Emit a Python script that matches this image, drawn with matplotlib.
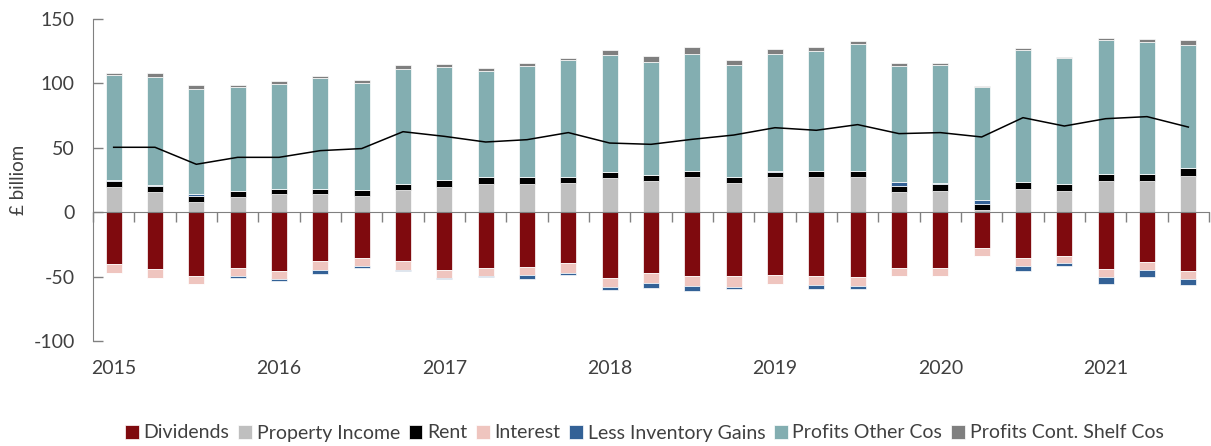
import matplotlib
matplotlib.use("Agg")
import matplotlib.pyplot as plt
import matplotlib.transforms as mtransforms
import numpy as np

plt.rcParams['font.family'] = ['Lato', 'DejaVu Sans']
plt.rcParams['axes.unicode_minus'] = False

quarters = [f"{y} Q{q}" for y in range(2015, 2022) for q in range(1, 5)][:27]
year_labels = ["2015", "2016", "2017", "2018", "2019", "2020", "2021"]

dividends = [-40.6, -44.4, -49.6, -43.7, -46.0, -38.2, -35.7, -38.2, -45.2, -43.7, -42.6, -39.8, -50.9, -47.5,
             -49.9, -49.6, -48.6, -49.6, -50.6, -43.7, -43.7, -27.6, -35.7, -33.9, -44.4, -39.0, -46.0]
property_income = [19.9, 16.0, 8.0, 12.1, 14.0, 14.0, 12.9, 17.3, 19.9, 22.0, 22.0, 23.0, 26.4, 24.5,
                   27.1, 23.0, 27.1, 27.1, 27.1, 15.8, 16.8, 1.8, 18.3, 16.8, 24.5, 24.5, 28.2]
rent = [4.4, 4.4, 4.7, 4.4, 4.1, 4.1, 4.4, 4.7, 5.2, 5.2, 5.2, 4.1, 4.9, 4.4,
        5.2, 4.1, 4.4, 5.2, 5.2, 4.9, 5.2, 4.7, 5.2, 5.2, 5.2, 5.2, 5.9]
interest = [-6.5, -7.0, -6.5, -6.2, -6.2, -7.0, -5.7, -6.5, -5.7, -5.9, -6.2, -7.2, -7.5, -7.2,
            -7.5, -8.8, -7.5, -7.2, -7.0, -6.2, -6.2, -6.5, -5.9, -5.2, -6.2, -6.2, -6.2]
inventory = [0.8, 0.6, 1.3, -0.8, -1.0, -2.6, -1.8, -1.0, -0.8, -1.0, -2.8, -2.1, -2.1, -3.9,
             -3.9, -1.0, 0.8, -2.6, -1.8, 2.8, 0.8, 3.1, -3.9, -2.8, -5.2, -5.4, -4.7]
profits_other = [81.7, 83.7, 81.7, 80.4, 81.1, 85.8, 82.9, 88.9, 87.3, 82.4, 86.0, 90.7, 90.9, 87.9,
                 90.9, 87.1, 90.7, 92.8, 98.4, 89.7, 91.5, 87.3, 102.8, 97.4, 103.9, 102.1, 95.9]
profits_shelf = [1.6, 3.1, 2.8, 1.6, 2.8, 1.6, 2.3, 3.1, 2.6, 2.6, 2.6, 2.3, 3.4, 4.4,
                 5.2, 4.1, 3.4, 3.1, 2.6, 2.8, 1.8, 0.8, 1.0, 1.0, 1.6, 2.6, 3.4]
net_line = [50.4, 50.4, 37.2, 42.6, 42.6, 47.8, 49.4, 62.5, 58.9, 54.5, 56.3, 61.8, 53.7, 52.7,
            56.6, 59.9, 65.6, 63.6, 68.0, 61.0, 61.8, 58.4, 73.4, 66.9, 72.6, 74.2, 66.1]

series = [
    ("Dividends", dividends, "#7f0a0e"),
    ("Property Income", property_income, "#bfbfbf"),
    ("Rent", rent, "#000000"),
    ("Interest", interest, "#efc5bf"),
    ("Less Inventory Gains", inventory, "#336196"),
    ("Profits Other Cos", profits_other, "#83aeb1"),
    ("Profits Cont. Shelf Cos", profits_shelf, "#7f7f7f"),
]
pos_order = ["Property Income", "Rent", "Less Inventory Gains", "Profits Other Cos", "Profits Cont. Shelf Cos"]
neg_order = ["Dividends", "Interest", "Less Inventory Gains"]

fig = plt.figure(figsize=(12.11, 4.46), dpi=100)
ax = fig.add_axes([93 / 1211, 105 / 446, 1116 / 1211, 322 / 446])

x = np.arange(len(quarters))
width = 0.39
pos_bottom = np.zeros(len(x))
neg_bottom = np.zeros(len(x))
handles = {}
sdict = {n: (np.array(v, float), c) for n, v, c in series}

order = ["Dividends", "Interest", "Property Income", "Rent", "Less Inventory Gains",
         "Profits Other Cos", "Profits Cont. Shelf Cos"]
for name in order:
    vals, col = sdict[name]
    pos = np.where(vals > 0, vals, 0)
    neg = np.where(vals < 0, vals, 0)
    h = None
    if name in pos_order and pos.any():
        h = ax.bar(x, pos, width, bottom=pos_bottom, color=col, edgecolor="white", linewidth=0.5, zorder=2)
        pos_bottom += pos
    if name in neg_order and neg.any():
        h2 = ax.bar(x, neg, width, bottom=neg_bottom, color=col, edgecolor="white", linewidth=0.5, zorder=2)
        neg_bottom += neg
        h = h if h is not None else h2
    handles[name] = h

ax.plot(x, net_line, color="black", lw=1.1, zorder=3)

ax.set_xlim(-0.5, len(x) - 0.5)
ax.set_ylim(-100, 150)
ax.set_yticks([-100, -50, 0, 50, 100, 150])
ax.tick_params(axis="y", direction="in", length=7, width=1, color="#808080",
               labelsize=14, labelcolor="#404040", pad=13)

ax.spines["top"].set_visible(False)
ax.spines["right"].set_visible(False)
ax.spines["left"].set_color("#808080")
ax.spines["bottom"].set_color("#808080")
ax.spines["bottom"].set_position(("data", 0))
ax.set_xticks(np.arange(-0.5, len(x), 1.0))
ax.set_xticklabels([])
ax.tick_params(axis="x", direction="out", length=7, width=1, color="#808080")

trans = mtransforms.blended_transform_factory(ax.transData, ax.transAxes)
for i, lab in enumerate(year_labels):
    ax.text(i * 4, -0.084, lab, transform=trans, ha="center", va="center",
            fontsize=14, color="#404040")

ax.set_ylabel("£ billiom", fontsize=13.5, color="#404040")
ax.yaxis.set_label_coords(-0.059, 0.5)

leg_names = ["Dividends", "Property Income", "Rent", "Interest", "Less Inventory Gains",
             "Profits Other Cos", "Profits Cont. Shelf Cos"]
leg = fig.legend([handles[n] for n in leg_names], leg_names, loc="center", bbox_to_anchor=(0.532, 1 - 433 / 446),
                 ncol=7, frameon=False, fontsize=14, handlelength=0.7, handleheight=0.7,
                 handletextpad=0.25, columnspacing=0.45, labelcolor="#404040")

fig.savefig("out.png", dpi=100)
